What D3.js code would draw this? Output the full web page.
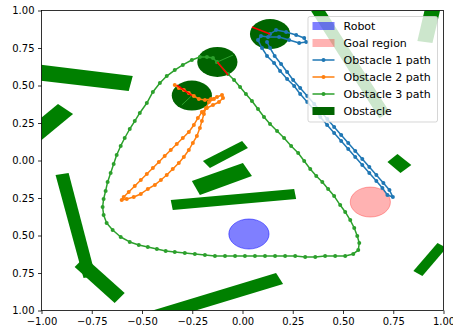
<!DOCTYPE html>
<html><head><meta charset="utf-8">
<script src="https://cdn.jsdelivr.net/npm/d3@7"></script>
<style>body{margin:0;background:#fff} svg{display:block} text{font-family:"DejaVu Sans",sans-serif}</style>
</head><body><svg id="c" width="453" height="330"></svg>
<script>
const xTicks = [-1,-0.75,-0.5,-0.25,0,0.25,0.5,0.75,1];
const xTickLabels = ["−1.00","−0.75","−0.50","−0.25","0.00","0.25","0.50","0.75","1.00"];
const yTicks = [1,0.75,0.5,0.25,0,-0.25,-0.5,-0.75,-1];
const yTickLabels = ["1.00","0.75","0.50","0.25","0.00","0.25","0.50","0.75","1.00"];
const legendLabels = ["Robot","Goal region","Obstacle 1 path","Obstacle 2 path","Obstacle 3 path","Obstacle"];

// static obstacles: corner points (data units)
const staticObstacles = [
  [[-1.110,0.657],[-0.546,0.563],[-0.566,0.463],[-1.120,0.550]],
  [[-0.918,0.377],[-0.843,0.310],[-1.060,0.070],[-1.135,0.137]],
  [[-0.930,-0.097],[-0.865,-0.083],[-0.731,-0.770],[-0.791,-0.783]],
  [[-0.786,-0.643],[-0.586,-0.883],[-0.636,-0.950],[-0.835,-0.710]],
  [[0.167,-0.750],[0.202,-0.823],[-0.486,-1.103],[-0.521,-1.030]],
  [[-0.197,-0.003],[-0.002,0.130],[0.027,0.083],[-0.162,-0.050]],
  [[-0.252,-0.137],[0.002,-0.017],[0.047,-0.103],[-0.212,-0.230]],
  [[-0.357,-0.263],[0.257,-0.190],[0.267,-0.257],[-0.347,-0.330]],
  [[0.721,-0.010],[0.771,0.043],[0.840,-0.030],[0.786,-0.083]],
  [[0.850,-0.737],[0.970,-0.550],[1.015,-0.583],[0.895,-0.770]],
  [[0.392,1.038],[0.731,0.325],[0.681,0.282],[0.342,0.995]],
  [[0.870,0.797],[0.945,0.783],[0.995,1.070],[0.920,1.083]]
];

// moving obstacles: centres, radius, heading tips
const movingCentres = [[0.137,0.843],[-0.252,0.433],[-0.125,0.657]];
const obstacleRadius = 0.1;
const headingTips = [[0.047,0.890],[-0.327,0.503],[-0.072,0.570]];
const innerTips = [null,[-0.302,0.370],[-0.047,0.703]];

const robotCentre = [0.032,-0.490];
const goalCentre = [0.636,-0.277];
const robotRadius = 0.1;
const goalRadius = 0.1;

const obs1Path = [[0.137,0.843],[0.167,0.870],[0.217,0.857],[0.267,0.837],[0.307,0.817],[0.317,0.790],[0.282,0.783],[0.232,0.803],[0.182,0.823],[0.127,0.823],[0.092,0.830],[0.077,0.803],[0.097,0.750],[0.122,0.697],[0.157,0.650],[0.187,0.597],[0.222,0.543],[0.257,0.497],[0.287,0.443],[0.322,0.390],[0.357,0.337],[0.387,0.290],[0.421,0.237],[0.456,0.183],[0.491,0.130],[0.526,0.077],[0.561,0.023],[0.596,-0.030],[0.631,-0.083],[0.666,-0.137],[0.696,-0.183],[0.721,-0.230],[0.748,-0.243],[0.731,-0.197],[0.701,-0.150],[0.666,-0.097],[0.631,-0.043],[0.596,0.010],[0.561,0.063],[0.526,0.117],[0.491,0.170],[0.456,0.223],[0.422,0.277],[0.392,0.323],[0.357,0.377],[0.322,0.430],[0.287,0.483],[0.252,0.537],[0.222,0.590],[0.192,0.643],[0.160,0.697],[0.137,0.750],[0.122,0.790]];

const obs2Path = [[-0.337,0.503],[-0.317,0.483],[-0.292,0.470],[-0.267,0.450],[-0.242,0.430],[-0.217,0.410],[-0.187,0.403],[-0.157,0.410],[-0.127,0.423],[-0.102,0.437],[-0.097,0.417],[-0.117,0.390],[-0.147,0.370],[-0.177,0.350],[-0.202,0.323],[-0.222,0.283],[-0.242,0.237],[-0.267,0.190],[-0.297,0.150],[-0.327,0.110],[-0.357,0.070],[-0.387,0.030],[-0.416,-0.010],[-0.446,-0.050],[-0.476,-0.090],[-0.506,-0.130],[-0.536,-0.170],[-0.566,-0.210],[-0.591,-0.243],[-0.601,-0.263],[-0.576,-0.257],[-0.541,-0.243],[-0.506,-0.223],[-0.471,-0.190],[-0.436,-0.163],[-0.406,-0.130],[-0.377,-0.097],[-0.347,-0.057],[-0.317,-0.017],[-0.292,0.023],[-0.267,0.070],[-0.247,0.117],[-0.227,0.163],[-0.212,0.217],[-0.202,0.263],[-0.192,0.310],[-0.182,0.350],[-0.167,0.390],[-0.142,0.410]];

const obs3Path = [[-0.127,0.657],[-0.072,0.577],[-0.042,0.537],[-0.012,0.490],[0.017,0.443],[0.047,0.397],[0.077,0.343],[0.107,0.290],[0.137,0.243],[0.172,0.197],[0.207,0.150],[0.242,0.097],[0.277,0.050],[0.307,-0.003],[0.337,-0.057],[0.367,-0.103],[0.397,-0.143],[0.426,-0.190],[0.456,-0.237],[0.486,-0.297],[0.511,-0.343],[0.536,-0.397],[0.556,-0.450],[0.571,-0.503],[0.581,-0.550],[0.576,-0.597],[0.551,-0.623],[0.511,-0.637],[0.461,-0.637],[0.411,-0.637],[0.362,-0.643],[0.312,-0.643],[0.262,-0.637],[0.212,-0.637],[0.162,-0.637],[0.112,-0.637],[0.062,-0.637],[0.012,-0.637],[-0.037,-0.637],[-0.087,-0.637],[-0.137,-0.637],[-0.187,-0.630],[-0.237,-0.623],[-0.287,-0.617],[-0.337,-0.610],[-0.382,-0.603],[-0.426,-0.590],[-0.471,-0.577],[-0.516,-0.563],[-0.561,-0.543],[-0.606,-0.510],[-0.646,-0.463],[-0.676,-0.417],[-0.691,-0.363],[-0.696,-0.310],[-0.691,-0.257],[-0.681,-0.203],[-0.671,-0.143],[-0.656,-0.083],[-0.641,-0.023],[-0.626,0.037],[-0.606,0.097],[-0.586,0.150],[-0.561,0.210],[-0.536,0.263],[-0.511,0.317],[-0.476,0.383],[-0.446,0.457],[-0.411,0.517],[-0.377,0.563],[-0.337,0.603],[-0.297,0.637],[-0.252,0.670],[-0.212,0.690],[-0.177,0.690],[-0.147,0.683],[-0.127,0.657]];

const paths = [obs1Path, obs2Path, obs3Path];
const pathColors = ["#1f77b4","#ff7f0e","#2ca02c"];

const svg = d3.select("#c");
const L = 41.5, R = 443.5, T = 10.5, B = 310.5;
const x = d3.scaleLinear().domain([-1,1]).range([L,R]);
const y = d3.scaleLinear().domain([-1,1]).range([B,T]);

svg.append("defs").append("clipPath").attr("id","clip")
  .append("rect").attr("x",L).attr("y",T).attr("width",R-L).attr("height",B-T);
const g = svg.append("g").attr("clip-path","url(#clip)");

// static obstacles
g.selectAll("polygon.obs").data(staticObstacles).join("polygon")
  .attr("points", d => d.map(p => x(p[0])+","+y(p[1])).join(" "))
  .attr("fill","#008000");

const rx = r => x(r) - x(0), ry = r => y(0) - y(r);

// moving obstacles
g.selectAll("ellipse.mov").data(movingCentres).join("ellipse")
  .attr("cx", d => x(d[0])).attr("cy", d => y(d[1]))
  .attr("rx", rx(obstacleRadius)).attr("ry", ry(obstacleRadius))
  .attr("fill","#006400");

// robot & goal
g.append("ellipse").attr("cx",x(robotCentre[0])).attr("cy",y(robotCentre[1]))
  .attr("rx",rx(robotRadius)).attr("ry",ry(robotRadius))
  .attr("fill","rgba(0,0,255,0.5)").attr("stroke","rgba(0,0,255,0.5)").attr("stroke-width",1);
g.append("ellipse").attr("cx",x(goalCentre[0])).attr("cy",y(goalCentre[1]))
  .attr("rx",rx(goalRadius)).attr("ry",ry(goalRadius))
  .attr("fill","rgba(255,0,0,0.3)").attr("stroke","rgba(255,0,0,0.3)").attr("stroke-width",1);

// paths
const line = d3.line().x(d => x(d[0])).y(d => y(d[1]));
paths.forEach((p,i) => {
  g.append("path").attr("d", line(p)).attr("fill","none")
    .attr("stroke", pathColors[i]).attr("stroke-width",1.5).attr("stroke-linejoin","round");
  g.selectAll(null).data(p).join("circle")
    .attr("cx", d => x(d[0])).attr("cy", d => y(d[1])).attr("r",2).attr("fill",pathColors[i]);
});

// inner lines & headings
movingCentres.forEach((c,i) => {
  if (innerTips[i]) g.append("line").attr("x1",x(c[0])).attr("y1",y(c[1]))
    .attr("x2",x(innerTips[i][0])).attr("y2",y(innerTips[i][1]))
    .attr("stroke","#2ca02c").attr("stroke-width",1);
  g.append("line").attr("x1",x(c[0])).attr("y1",y(c[1]))
    .attr("x2",x(headingTips[i][0])).attr("y2",y(headingTips[i][1]))
    .attr("stroke","red").attr("stroke-width",1.5);
});

// axes
const xa = svg.append("g").attr("transform",`translate(0,${B})`)
  .call(d3.axisBottom(x).tickValues(xTicks).tickFormat((d,i)=>xTickLabels[i]).tickSize(3.5).tickPadding(3.5));
const ya = svg.append("g").attr("transform",`translate(${L},0)`)
  .call(d3.axisLeft(y).tickValues(yTicks).tickFormat((d,i)=>yTickLabels[i]).tickSize(3.5).tickPadding(3.5));
[xa,ya].forEach(a => {
  a.select(".domain").remove();
  a.selectAll("line").attr("stroke","#000").attr("stroke-width",0.8);
  a.selectAll("text").attr("fill","#000").style("font-size","10px").style("font-family","'DejaVu Sans',sans-serif");
});
svg.append("rect").attr("x",L).attr("y",T).attr("width",R-L).attr("height",B-T)
  .attr("fill","none").attr("stroke","#000").attr("stroke-width",0.8);

// legend
const lg = svg.append("g");
lg.append("rect").attr("x",308).attr("y",16.5).attr("width",129.5).attr("height",105.5).attr("rx",2)
  .attr("fill","white").attr("fill-opacity",0.8).attr("stroke","#cccccc").attr("stroke-opacity",0.8);
const rowY = i => 26 + i*17;
const hx0 = 312.5, hx1 = 334.5;
lg.append("rect").attr("x",hx0).attr("y",rowY(0)-4).attr("width",hx1-hx0).attr("height",8)
  .attr("fill","rgba(0,0,255,0.5)");
lg.append("rect").attr("x",hx0).attr("y",rowY(1)-4).attr("width",hx1-hx0).attr("height",8)
  .attr("fill","rgba(255,0,0,0.3)");
pathColors.forEach((c,i) => {
  lg.append("line").attr("x1",hx0).attr("x2",hx1).attr("y1",rowY(i+2)).attr("y2",rowY(i+2))
    .attr("stroke",c).attr("stroke-width",1.5);
  lg.append("circle").attr("cx",(hx0+hx1)/2).attr("cy",rowY(i+2)).attr("r",2).attr("fill",c);
});
lg.append("rect").attr("x",hx0).attr("y",rowY(5)-4).attr("width",hx1-hx0).attr("height",8)
  .attr("fill","#006400");
lg.selectAll("text").data(legendLabels).join("text")
  .attr("x",343.5).attr("y",(d,i)=>rowY(i)).attr("dy","0.36em")
  .style("font-size","11px").attr("fill","#000").text(d=>d);
</script></body></html>
